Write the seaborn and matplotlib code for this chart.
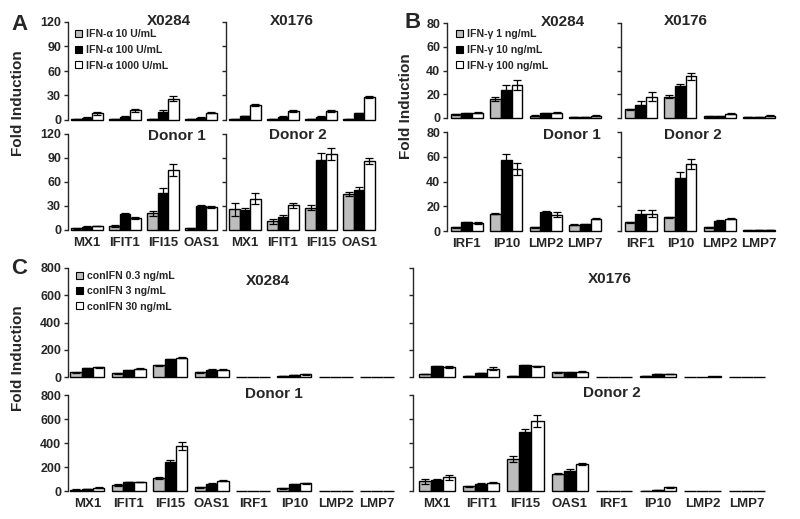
import numpy as np
import pandas as pd
import matplotlib
matplotlib.use('Agg')
import matplotlib.pyplot as plt
import seaborn as sns
from matplotlib.patches import Patch
from matplotlib.ticker import StrMethodFormatter

# genes and doses
genes_a = ['MX1', 'IFIT1', 'IFI15', 'OAS1']
genes_b = ['IRF1', 'IP10', 'LMP2', 'LMP7']
genes_c = genes_a + genes_b

doses_a = ['IFN-\u03b1 10 U/mL', 'IFN-\u03b1 100 U/mL', 'IFN-\u03b1 1000 U/mL']
doses_b = ['IFN-\u03b3 1 ng/mL', 'IFN-\u03b3 10 ng/mL', 'IFN-\u03b3 100 ng/mL']
doses_c = ['conIFN 0.3 ng/mL', 'conIFN 3 ng/mL', 'conIFN 30 ng/mL']

# panel A (rows = low, mid, high dose)
a_x0284 = [[1, 1, 1, 1], [3, 4, 10, 3], [8, 12, 26, 9]]
a_x0284_err = [[0.3, 0.3, 0.3, 0.3], [0.5, 0.8, 2, 0.5], [1.5, 2, 3, 1]]
a_x0176 = [[1, 1, 1, 1], [5, 4, 4, 8], [18, 11, 11, 28]]
a_x0176_err = [[0.3, 0.3, 0.3, 0.3], [0.5, 0.5, 0.5, 1], [1, 1, 1.5, 1.5]]
a_donor1 = [[2, 5, 21, 2], [4, 20, 46, 30], [5, 15, 75, 29]]
a_donor1_err = [[0.5, 1, 3, 0.5], [0.5, 1.5, 6, 1.5], [0.5, 1.5, 7, 1.5]]
a_donor2 = [[26, 11, 28, 45], [25, 16, 88, 50], [39, 31, 95, 86]]
a_donor2_err = [[8, 3, 3, 3], [2, 3, 8, 4], [7, 3, 8, 4]]

# panel B
b_x0284 = [[3, 16, 2, 1], [4, 24, 4, 1], [4.5, 28, 4.5, 2]]
b_x0284_err = [[0.5, 1.5, 0.5, 0.2], [0.5, 4, 0.5, 0.2], [0.5, 4, 0.5, 0.3]]
b_x0176 = [[7.5, 18, 1.5, 1], [11, 27, 1.5, 1], [18, 35, 3.5, 2]]
b_x0176_err = [[0.5, 1, 0.3, 0.2], [3, 2, 0.3, 0.2], [4, 3, 0.5, 0.3]]
b_donor1 = [[3, 14, 3, 5], [7, 57, 15, 5.5], [6.5, 50, 13, 10]]
b_donor1_err = [[0.5, 0.5, 0.5, 0.5], [0.5, 5, 1, 0.5], [0.5, 5, 2, 0.5]]
b_donor2 = [[7, 11, 3, 0.5], [14, 43, 8, 1], [14, 54, 10, 1]]
b_donor2_err = [[0.5, 0.5, 0.3, 0.2], [3, 5, 0.5, 0.2], [3, 4, 0.5, 0.2]]

# panel C
c_x0284 = [[35, 28, 85, 35, 1, 5, 2, 1],
           [65, 50, 130, 55, 1, 15, 3, 1],
           [70, 60, 140, 55, 1, 20, 3, 1]]
c_x0284_err = [[3, 3, 5, 3, 0, 1, 0, 0], [4, 4, 4, 4, 0, 2, 0, 0], [4, 4, 4, 4, 0, 3, 0, 0]]
c_x0176 = [[22, 8, 10, 35, 1, 5, 2, 1],
           [80, 30, 85, 35, 1, 22, 3, 1],
           [75, 62, 78, 38, 1, 22, 4, 1]]
c_x0176_err = [[2, 1, 1, 3, 0, 1, 0, 0], [4, 3, 4, 3, 0, 2, 0, 0], [8, 8, 4, 3, 0, 3, 0, 0]]
c_donor1 = [[12, 50, 105, 30, 2, 22, 3, 2],
            [18, 75, 240, 60, 2, 55, 4, 2],
            [28, 75, 375, 85, 2, 65, 4, 2]]
c_donor1_err = [[2, 5, 8, 4, 0, 3, 0, 0], [2, 4, 20, 4, 0, 4, 0, 0], [3, 4, 30, 4, 0, 4, 0, 0]]
c_donor2 = [[80, 40, 265, 145, 2, 3, 3, 1],
            [95, 60, 490, 170, 3, 10, 4, 2],
            [115, 70, 580, 225, 3, 30, 4, 2]]
c_donor2_err = [[20, 3, 25, 5, 0, 1, 0, 0], [5, 4, 25, 15, 0, 2, 0, 0], [20, 4, 50, 8, 0, 4, 0, 0]]

colors = ['#bdbdbd', 'black', 'white']

sns.set_style('ticks')
plt.rcParams['font.family'] = ['Liberation Sans', 'DejaVu Sans']
plt.rcParams['font.weight'] = 'bold'
plt.rcParams['axes.linewidth'] = 1.0

W, H = 800, 519
fig = plt.figure(figsize=(W / 100, H / 100), dpi=100)


def px_axes(x0, x1, ytop, ybot):
    return fig.add_axes([x0 / W, 1 - ybot / H, (x1 - x0) / W, (ybot - ytop) / H])


def ftext(x, y, s, size=11, **kw):
    fig.text(x / W, 1 - y / H, s, fontsize=size, fontweight='bold',
             ha='center', va='center', **kw)


def draw(ax, genes, doses, vals, errs, xlim, ymax, yticks, show_y, show_x):
    rows = []
    for i, d in enumerate(doses):
        for j, g in enumerate(genes):
            rows.append({'gene': g, 'dose': d, 'value': vals[i][j]})
    df = pd.DataFrame(rows)
    sns.barplot(data=df, x='gene', y='value', hue='dose', order=genes,
                hue_order=doses, palette=colors, saturation=1, width=0.82,
                edgecolor='black', linewidth=1.0, errorbar=None,
                legend=False, ax=ax)
    bar_groups = list(ax.containers)
    for i, cont in enumerate(bar_groups):
        for bar, e in zip(cont, errs[i]):
            bar.set_clip_on(False)
            if e > 0:
                ax.errorbar(bar.get_x() + bar.get_width() / 2, bar.get_height(),
                            yerr=e, color='black', capsize=2.8, lw=0.9,
                            capthick=0.9, zorder=5)
    ax.set_xlim(*xlim)
    ax.set_ylim(0, ymax)
    ax.set_yticks(yticks)
    ax.yaxis.set_major_formatter(StrMethodFormatter('{x:.0f}'))
    ax.set_xlabel('')
    ax.set_ylabel('')
    sns.despine(ax=ax, bottom=True)
    ax.tick_params(axis='y', direction='out', length=3, width=1, pad=2,
                   labelsize=9, labelleft=show_y)
    ax.tick_params(axis='x', length=0, pad=5, labelsize=9.5,
                   labelbottom=show_x)


def add_legend(ax, doses, x, y, spacing):
    handles = [Patch(facecolor=c, edgecolor='black', linewidth=0.8) for c in colors]
    ax.legend(handles, doses, loc='upper left',
              bbox_to_anchor=(x / W, 1 - y / H), bbox_transform=fig.transFigure,
              frameon=False, fontsize=7.6, handlelength=0.65, handleheight=0.65,
              handletextpad=0.35, labelspacing=spacing, borderaxespad=0,
              borderpad=0)


# panel A
ax = px_axes(68, 220, 22, 120)
draw(ax, genes_a, doses_a, a_x0284, a_x0284_err, (-0.5, 3.5), 120, [0, 30, 60, 90, 120], True, False)
add_legend(ax, doses_a, 75, 29, 0.55)
ax = px_axes(226, 378, 22, 120)
draw(ax, genes_a, doses_a, a_x0176, a_x0176_err, (-0.5, 3.5), 120, [0, 30, 60, 90, 120], False, False)
ax = px_axes(68, 220, 134, 230)
draw(ax, genes_a, doses_a, a_donor1, a_donor1_err, (-0.5, 3.5), 120, [0, 30, 60, 90, 120], True, True)
ax = px_axes(226, 378, 134, 230)
draw(ax, genes_a, doses_a, a_donor2, a_donor2_err, (-0.5, 3.5), 120, [0, 30, 60, 90, 120], False, True)

# panel B
ax = px_axes(447, 605, 23, 118)
draw(ax, genes_b, doses_b, b_x0284, b_x0284_err, (-0.5, 3.5), 80, [0, 20, 40, 60, 80], True, False)
add_legend(ax, doses_b, 456, 29, 0.55)
ax = px_axes(621, 779, 23, 118)
draw(ax, genes_b, doses_b, b_x0176, b_x0176_err, (-0.5, 3.5), 80, [0, 20, 40, 60, 80], False, False)
ax = px_axes(447, 605, 132, 231)
draw(ax, genes_b, doses_b, b_donor1, b_donor1_err, (-0.5, 3.5), 80, [0, 20, 40, 60, 80], True, True)
ax = px_axes(621, 779, 132, 231)
draw(ax, genes_b, doses_b, b_donor2, b_donor2_err, (-0.5, 3.5), 80, [0, 20, 40, 60, 80], False, True)

# panel C
ax = px_axes(68, 399, 268, 377)
draw(ax, genes_c, doses_c, c_x0284, c_x0284_err, (-0.47, 7.53), 800, [0, 200, 400, 600, 800], True, False)
add_legend(ax, doses_c, 76, 271, 0.5)
ax = px_axes(413, 767, 268, 377)
draw(ax, genes_c, doses_c, c_x0176, c_x0176_err, (-0.54, 7.46), 800, [0, 200, 400, 600, 800], False, False)
ax = px_axes(68, 399, 395, 491)
draw(ax, genes_c, doses_c, c_donor1, c_donor1_err, (-0.47, 7.53), 800, [0, 200, 400, 600, 800], True, True)
ax = px_axes(413, 767, 395, 491)
draw(ax, genes_c, doses_c, c_donor2, c_donor2_err, (-0.54, 7.46), 800, [0, 200, 400, 600, 800], False, True)

# titles
ftext(169, 21, 'X0284')
ftext(292, 21, 'X0176')
ftext(177, 136, 'Donor 1')
ftext(298, 135, 'Donor 2')
ftext(563, 22, 'X0284')
ftext(686, 21, 'X0176')
ftext(572, 135, 'Donor 1')
ftext(693, 135, 'Donor 2')
ftext(268, 281, 'X0284')
ftext(610, 279, 'X0176')
ftext(274, 394, 'Donor 1')
ftext(612, 393, 'Donor 2')

# y labels
ftext(18, 103, 'Fold Induction', size=11, rotation=90)
ftext(406, 106, 'Fold Induction', size=11, rotation=90)
ftext(18, 358, 'Fold Induction', size=11, rotation=90)

# panel letters
ftext(20, 24, 'A', size=16)
ftext(413, 23, 'B', size=16)
ftext(19, 269, 'C', size=16)

fig.savefig('out.png', dpi=100)
